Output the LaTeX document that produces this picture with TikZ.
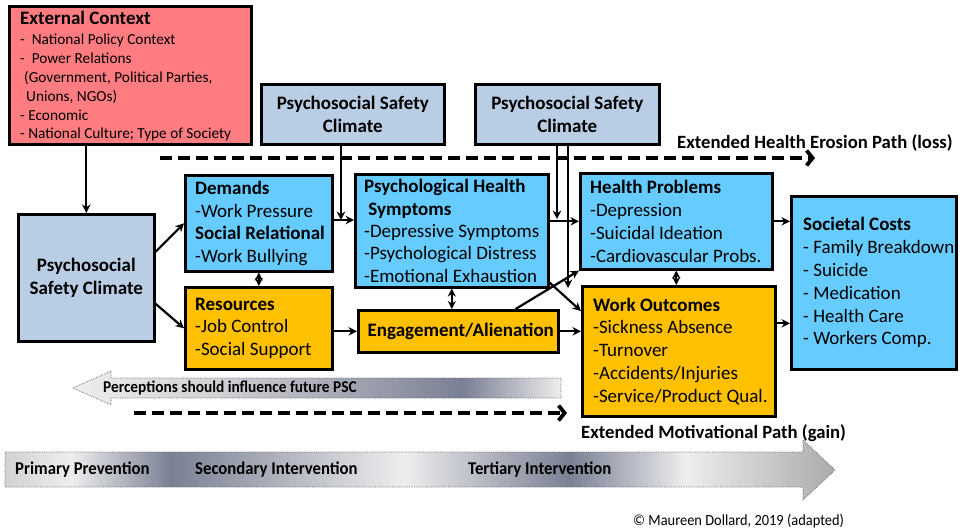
\documentclass[tikz,border=0pt]{standalone}
\usepackage{fontspec}
\setmainfont{Carlito}
\newfontfamily\narrowbf[FakeStretch=0.93]{Carlito Bold}
\newfontfamily\narrowrm[FakeStretch=0.93]{Carlito}
\usetikzlibrary{arrows.meta,calc}
\definecolor{extred}{HTML}{FF7C80}
\definecolor{pscblue}{HTML}{B9CDE5}
\definecolor{cyanb}{HTML}{66CCFF}
\definecolor{orangeb}{HTML}{FFC000}
\definecolor{shL}{HTML}{EEEEEE}
\definecolor{shP}{HTML}{D0D0D4}
\definecolor{shD}{HTML}{7A8094}
\definecolor{shA}{HTML}{D2D2D2}
\definecolor{shE}{HTML}{ABABAB}
\pgfdeclarehorizontalshading{percshade}{100bp}{color(0bp)=(shL); color(25bp)=(shL); color(40bp)=(shP); color(65bp)=(shD); color(75bp)=(shL); color(100bp)=(shL)}
\pgfdeclarehorizontalshading{intshade}{100bp}{color(0bp)=(shA); color(25bp)=(shA); color(29bp)=(shL); color(35bp)=(shD); color(49bp)=(shL); color(59bp)=(shD); color(66bp)=(shL); color(75bp)=(shE); color(100bp)=(shE)}
\tikzset{
  box/.style={draw=black, line width=2.6pt, inner sep=0pt, anchor=north west},
  btext/.style={inner sep=0pt, anchor=west, align=left, font=\fontsize{19}{22.6}\selectfont},
  cbox/.style={draw=black, line width=2.6pt, inner sep=0pt, anchor=north west, align=center,
    font=\fontsize{19}{23}\selectfont\bfseries, fill=pscblue},
  arr/.style={line width=2.2pt, -{Stealth[length=8.5pt,width=8.5pt]}},
  darr/.style={line width=2.2pt, {Stealth[length=8pt,width=8pt]}-{Stealth[length=8pt,width=8pt]}},
  dasharr/.style={line width=3.8pt, dash pattern=on 12pt off 6pt, -{Straight Barb[length=6pt,width=15pt]}},
  lbl/.style={font=\fontsize{18.7}{22}\selectfont\bfseries, inner sep=0pt, anchor=west},
  blockarr/.style={draw=black!60, densely dotted, line width=0.7pt, shade},
  smalllbl/.style={font=\fontsize{16.5}{18}\narrowbf, inner sep=0pt, anchor=west},
  biglbl/.style={font=\fontsize{18}{20}\narrowbf, inner sep=0pt, anchor=west},
}
\begin{document}
\begin{tikzpicture}[x=1pt,y=-1pt]
\useasboundingbox[fill=white] (0,0) rectangle (962,531);

% boxes
\node[box, fill=extred, minimum width=242pt, minimum height=138pt] (ext) at (8,5) {};
\node[btext, font=\fontsize{15.3}{18.8}\selectfont] (extT) at ([xshift=12pt,yshift=-1pt]ext.west)
  {{\fontsize{19}{23}\selectfont\bfseries External Context}\\[1.5pt]
   -\ \ National Policy Context\\
   -\ \ Power Relations\\
   \hspace*{4pt}(Government, Political Parties,\\
   \hspace*{6pt}Unions, NGOs)\\
   - Economic\\
   - National Culture; Type of Society};
\node[cbox, minimum width=183pt, minimum height=60pt] (psc1) at (260,83) {Psychosocial Safety\\Climate};
\node[cbox, minimum width=184pt, minimum height=60pt] (psc2) at (474,83) {Psychosocial Safety\\Climate};
\node[cbox, minimum width=136pt, minimum height=127pt] (pscL) at (17,213) {Psychosocial\\Safety Climate};

\node[box, fill=cyanb, minimum width=147pt, minimum height=96pt] (dem) at (184,174) {};
\node[btext] (demT) at ([xshift=11pt]dem.west)
  {\textbf{Demands}\\-Work Pressure\\\textbf{Social Relational}\\-Work Bullying};
\node[box, fill=orangeb, minimum width=147pt, minimum height=82pt] (res) at (184,286) {};
\node[btext] (resT) at ([xshift=11pt]res.west)
  {\textbf{Resources}\\-Job Control\\-Social Support};
\node[box, fill=cyanb, minimum width=193pt, minimum height=113pt] (phs) at (354,173) {};
\node[btext, font=\fontsize{19}{22.3}\selectfont] (phsT) at ([xshift=10pt]phs.west)
  {\textbf{Psychological Health}\\\textbf{\ Symptoms}\\-Depressive Symptoms\\-Psychological Distress\\-Emotional Exhaustion};
\node[box, fill=orangeb, minimum width=200pt, minimum height=42pt, font=\fontsize{19}{23}\selectfont\bfseries] (eng) at (357,309) {\hspace*{5pt}Engagement/Alienation};
\node[box, fill=cyanb, minimum width=192pt, minimum height=96pt] (hp) at (579,172) {};
\node[btext, font=\fontsize{19}{23.2}\selectfont] (hpT) at ([xshift=11pt]hp.west)
  {\textbf{Health Problems}\\-Depression\\-Suicidal Ideation\\-Cardiovascular Probs.};
\node[box, fill=orangeb, minimum width=193pt, minimum height=130pt] (wo) at (581,285) {};
\node[btext, font=\fontsize{19}{22.8}\selectfont] (woT) at ([xshift=12pt]wo.west)
  {\textbf{Work Outcomes}\\-Sickness Absence\\-Turnover\\-Accidents/Injuries\\-Service/Product Qual.};
\node[box, fill=cyanb, minimum width=165pt, minimum height=173pt] (soc) at (790,195) {};
\node[btext, font=\fontsize{19}{22.8}\selectfont] (socT) at ([xshift=13pt]soc.west)
  {\textbf{Societal Costs}\\- Family Breakdown\\- Suicide\\- Medication\\- Health Care\\- Workers Comp.};

% connectors
\draw[arr] (ext.south -| pscL.north) -- (pscL.north);
\draw[arr] ([yshift=26pt]pscL.east) -- (dem.west);
\draw[arr] ([yshift=-26pt]pscL.east) -- (res.west);
\draw[darr] (dem.south) -- (res.north);
\coordinate (j1) at (341,220);
\draw[arr] (dem.east |- j1) -- (phs.west |- j1);
\draw[arr] (psc1.south -| j1) -- (j1);
\draw[arr] (res.east |- eng.west) -- (eng.west);
\draw[darr] (phs.south) -- (phs.south |- eng.north);
\draw[arr] (phs.east |- hp.west) -- (hp.west);
\coordinate (j2) at (557,219);
\draw[arr] (psc2.south -| j2) -- (j2);
\coordinate (j3) at (568,288);
\draw[arr] (psc2.south -| j3) -- (j3);
\draw[arr] ([yshift=6pt]phs.south east) -- ([yshift=-26pt]wo.north west);
\draw[arr] ([xshift=-44pt]eng.north east) -- (hp.south west);
\draw[arr] (eng.east) -- (eng.east -| wo.west);
\draw[darr] (hp.south) -- (hp.south |- wo.north);
\draw[arr] (hp.east) -- (hp.east -| soc.west);
\draw[arr] ([yshift=28pt]wo.east) -- ([yshift=28pt]wo.east -| soc.west);

% dashed paths
\coordinate (e1) at (160,158);
\coordinate (e2) at (815,158);
\draw[dasharr] (e1) -- (e2);
\node[lbl] (elbl) at (677,143) {Extended Health Erosion Path (loss)};
\coordinate (m1) at (134,413);
\coordinate (m2) at (567,413);
\draw[dasharr] (m1) -- (m2);
\node[lbl] (mlbl) at (581,433) {Extended Motivational Path (gain)};

% block arrows
\path[blockarr, shading=percshade] (73,388) -- (111,371) -- (111,378) -- (561,378) -- (561,398)
  -- (111,398) -- (111,405) -- cycle;
\node[smalllbl] (perc) at (103,388) {Perceptions should influence future PSC};
\path[blockarr, shading=intshade] (5,452) -- (803,452) -- (803,440) -- (835,470) -- (803,500)
  -- (803,487) -- (5,487) -- cycle;
\node[biglbl] (prim) at (15,470) {Primary Prevention};
\node[biglbl] (sec) at (195,470) {Secondary Intervention};
\node[biglbl] (ter) at (468,470) {Tertiary Intervention};

\node[inner sep=0pt, anchor=west, font=\fontsize{15.5}{17}\narrowrm] (copy) at (633,521) {© Maureen Dollard, 2019 (adapted)};
\end{tikzpicture}
\end{document}
